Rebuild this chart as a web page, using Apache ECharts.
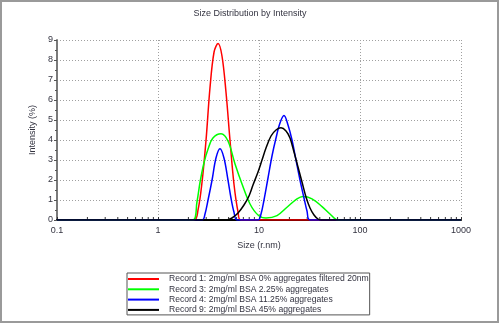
<!DOCTYPE html>
<html>
<head>
<meta charset="utf-8">
<script src="https://cdn.jsdelivr.net/npm/echarts@6/dist/echarts.min.js"></script>
<style>
  html, body { margin: 0; padding: 0; background: #fff; }
  #chart { width: 500px; height: 324px; }
</style>
</head>
<body>
<div id="chart"></div>
<script>
// Size distribution by intensity (DLS), hydrodynamic radius in nm vs intensity %
const recordNames = [
  'Record 1: 2mg/ml BSA 0% aggregates filtered 20nm',
  'Record 3: 2mg/ml BSA 2.25% aggregates',
  'Record 4: 2mg/ml BSA 11.25% aggregates',
  'Record 9: 2mg/ml BSA 45% aggregates'
];
const recordColors = ['#ff0000', '#00ff00', '#0000ff', '#000000'];

const record1Size = [0.1, 2.27, 2.49, 2.73, 2.99, 3.27, 3.59, 3.93, 4.30, 4.71, 5.16, 5.65, 6.20, 6.63, 1000];
const record1Intensity = [0, 0, 0.5, 1.9, 4.0, 6.6, 8.4, 8.82, 8.2, 6.4, 4.0, 1.8, 0.4, 0, 0];

const record3Size = [0.1, 2.22, 2.43, 2.61, 2.85, 3.13, 3.50, 4.21, 4.93, 5.79, 6.79, 8.15, 9.78, 11.73, 15.08, 18.93, 23.78, 27.27, 33.48, 42.06, 50.47, 60.56, 1000];
const record3Intensity = [0, 0, 0.9, 1.9, 2.85, 3.55, 4.1, 4.31, 3.95, 2.8, 1.8, 0.8, 0.25, 0.1, 0.22, 0.64, 1.06, 1.18, 1.06, 0.67, 0.3, 0, 0];

const record4Size = [0.1, 2.73, 2.92, 3.13, 3.43, 3.75, 4.11, 4.50, 4.93, 5.28, 5.65, 6.06, 9.78, 10.47, 11.21, 12.28, 13.45, 14.74, 16.14, 17.68, 19.37, 21.22, 23.24, 25.46, 27.89, 29.87, 31.99, 1000];
const record4Intensity = [0, 0, 0.3, 1.0, 2.0, 3.1, 3.56, 3.1, 2.0, 1.1, 0.4, 0, 0, 0.3, 1.0, 2.1, 3.2, 4.1, 4.85, 5.22, 4.75, 4.0, 3.0, 2.0, 1.1, 0.45, 0, 0];

const record9Size = [0.1, 4.71, 5.40, 6.20, 7.10, 7.96, 8.72, 9.78, 10.71, 11.73, 13.15, 14.74, 16.51, 18.51, 20.27, 22.21, 24.33, 26.65, 29.19, 31.99, 35.04, 38.39, 41.11, 1000];
const record9Intensity = [0, 0, 0.1, 0.35, 0.75, 1.2, 1.75, 2.4, 3.0, 3.6, 4.2, 4.5, 4.61, 4.45, 4.1, 3.4, 2.65, 1.9, 1.15, 0.6, 0.25, 0.05, 0, 0];

const xMinorTicks = [0.2, 0.3, 0.4, 0.5, 0.6, 0.7, 0.8, 0.9,
                     2, 3, 4, 5, 6, 7, 8, 9,
                     20, 30, 40, 50, 60, 70, 80, 90,
                     200, 300, 400, 500, 600, 700, 800, 900];

const records = [
  [record1Size, record1Intensity],
  [record3Size, record3Intensity],
  [record4Size, record4Intensity],
  [record9Size, record9Intensity]
];

const FONT = 'Liberation Sans, Arial, sans-serif';
const TEXT = '#333340';
const dotted = { color: '#a0a0a0', width: 1, type: [1, 2] };

const chart = echarts.init(document.getElementById('chart'), null, { renderer: 'canvas' });

const lineSeries = records.map(([sizes, vals], i) => ({
  name: recordNames[i],
  type: 'line',
  data: sizes.map((s, k) => [s, vals[k]]),
  showSymbol: false,
  smooth: 0.35,
  lineStyle: { color: recordColors[i], width: 1.5 },
  itemStyle: { color: recordColors[i] },
  z: 3 + i
}));

chart.setOption({
  animation: false,
  textStyle: { fontFamily: FONT },
  title: {
    text: 'Size Distribution by Intensity',
    left: 'center',
    top: 9,
    padding: 0,
    textStyle: { fontSize: 9, fontWeight: 'normal', color: TEXT, fontFamily: FONT }
  },
  graphic: [{
    type: 'rect',
    shape: { x: 1, y: 1, width: 497, height: 321 },
    style: { fill: null, stroke: '#9a9a9a', lineWidth: 2 },
    silent: true
  }],
  legend: {
    orient: 'vertical',
    left: 127,
    top: 273,
    padding: [1, 1, 0, 1],
    itemGap: 0.3,
    itemWidth: 31,
    itemHeight: 2,
    icon: 'rect',
    selectedMode: false,
    borderColor: '#555',
    borderWidth: 1,
    data: recordNames,
    textStyle: {
      fontSize: 8.6, color: TEXT, fontFamily: FONT, lineHeight: 10,
      padding: [0, 0, 0, 5]
    }
  },
  grid: { left: 57, right: 39, top: 40, bottom: 104 },
  xAxis: {
    type: 'log',
    logBase: 10,
    min: 0.1,
    max: 1000,
    name: 'Size (r.nm)',
    nameLocation: 'middle',
    nameGap: 21,
    nameTextStyle: { fontSize: 9, color: TEXT, fontFamily: FONT },
    axisLine: { lineStyle: { color: '#000', width: 2 } },
    axisTick: { show: true, inside: true, length: 3, lineStyle: { color: '#333' } },
    axisLabel: {
      fontSize: 9, color: TEXT, margin: 6, fontFamily: FONT,
      formatter: v => String(+v.toPrecision(6))
    },
    splitLine: { show: true, lineStyle: dotted }
  },
  yAxis: {
    type: 'value',
    min: 0,
    max: 9,
    interval: 1,
    name: 'Intensity (%)',
    nameLocation: 'middle',
    nameGap: 12,
    nameTextStyle: { fontSize: 9, color: TEXT, fontFamily: FONT },
    axisLine: { show: true, lineStyle: { color: '#7a7a7a', width: 2 } },
    axisTick: { show: true, length: 3, lineStyle: { color: '#555' } },
    minorTick: { show: true, splitNumber: 2, length: 2, lineStyle: { color: '#555' } },
    axisLabel: { fontSize: 9, color: TEXT, margin: 4, fontFamily: FONT },
    splitLine: { show: true, lineStyle: dotted }
  },
  series: [{
    type: 'custom',
    silent: true,
    z: 2,
    data: xMinorTicks.map(v => [v, 0]),
    renderItem: (params, api) => {
      const p = api.coord([api.value(0), 0]);
      return {
        type: 'line',
        shape: { x1: p[0], y1: p[1] - 1, x2: p[0], y2: p[1] - 3 },
        style: { stroke: '#333', lineWidth: 1 }
      };
    }
  }].concat(lineSeries)
});
</script>
</body>
</html>
